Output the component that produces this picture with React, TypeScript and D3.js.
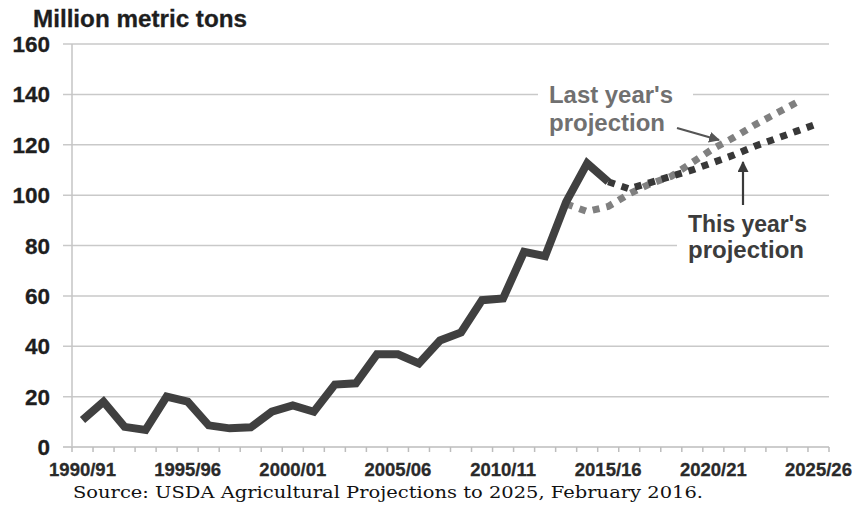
import React from "react";
import * as d3 from "d3";

const years = d3.range(1990, 2026);
const tickYears = [1990, 1995, 2000, 2005, 2010, 2015, 2020, 2025];
const yTicks = [0, 20, 40, 60, 80, 100, 120, 140, 160];

const historical = [10.7, 18, 8, 6.8, 20, 18, 8.6, 7.4, 7.8, 14, 16.5, 14, 24.8, 25.3, 36.8, 36.8, 33.2, 42.3, 45.5, 58.3, 59, 77.5, 75.8, 97.3, 112.6, 105.3];
const historicalStart = 1990;
const lastYear = [96.5, 93.5, 95.5, 100.5, 104.5, 107.5, 113, 118.5, 123, 128, 132.5, 137];
const lastYearStart = 2013;
const thisYear = [105.3, 102.5, 105, 107.5, 110, 113, 116, 119.5, 122.5, 125.5, 128.5];
const thisYearStart = 2015;

const W = 858, H = 505;
const x0 = 72, x1 = 829, yTop = 44, yBot = 447;

export default function App() {
  const band = d3.scaleBand<number>().domain(years).range([x0, x1]).padding(0);
  const xc = (yr: number) => (band(yr) as number) + band.bandwidth() / 2;
  const y = d3.scaleLinear().domain([0, 160]).range([yBot, yTop]);
  const line = d3.line<[number, number]>().x(d => xc(d[0])).y(d => y(d[1]));
  const toPts = (arr: number[], start: number) => arr.map((v, i) => [start + i, v] as [number, number]);

  const font = "'Liberation Sans', Arial, sans-serif";
  const gridColor = "#c9c9c9";

  return (
    <svg width={W} height={H} style={{ position: "absolute", left: 0, top: 0, background: "#fff" }}>
      <defs>
        <marker id="ah" viewBox="0 0 10 10" refX="9" refY="5" markerWidth="5" markerHeight="5" orient="auto">
          <path d="M0,0 L10,5 L0,10 z" fill="#555" />
        </marker>
        <marker id="ah2" viewBox="0 0 10 10" refX="9" refY="5" markerWidth="5" markerHeight="5" orient="auto">
          <path d="M0,0 L10,5 L0,10 z" fill="#3a3a3a" />
        </marker>
      </defs>
      {yTicks.map(t => (
        <line key={t} x1={63} x2={x1} y1={y(t)} y2={y(t)} stroke={t === 0 ? "#bdbdbd" : gridColor} strokeWidth={1.5} />
      ))}
      <line x1={x0} x2={x0} y1={yTop} y2={yBot} stroke="#c4c4c4" strokeWidth={1.5} />
      {years.concat([2026]).map(yr => {
        const xx = yr === 2026 ? x1 : (band(yr) as number);
        return <line key={yr} x1={xx} x2={xx} y1={yBot} y2={yBot + 5} stroke="#bdbdbd" strokeWidth={1.5} />;
      })}
      {yTicks.map(t => (
        <text key={t} x={50} y={y(t) + 8} textAnchor="end" fontFamily={font} fontWeight="bold" fontSize={22.5} fill="#1e1e1e" stroke="#1e1e1e" strokeWidth={0.3}>{t}</text>
      ))}
      {tickYears.map(yr => (
        <text key={yr} x={xc(yr)} y={476} textAnchor="middle" fontFamily={font} fontWeight="bold" fontSize={18.5} fill="#2a2a2a" stroke="#2a2a2a" strokeWidth={0.3}>
          {`${yr}/${String((yr + 1) % 100).padStart(2, "0")}`}
        </text>
      ))}
      <text x={33} y={27} fontFamily={font} fontWeight="bold" fontSize={23} fill="#1e1e1e" stroke="#1e1e1e" strokeWidth={0.3} textLength={214} lengthAdjust="spacingAndGlyphs">Million metric tons</text>

      <rect x={538} y={83} width={155} height={56} fill="#fff" />
      <rect x={677} y={208} width={160} height={60} fill="#fff" />

      <path d={line(toPts(lastYear, lastYearStart)) || ""} fill="none" stroke="#808080" strokeWidth={7} strokeDasharray="7 7" />
      <path d={line(toPts(historical, historicalStart)) || ""} fill="none" stroke="#404040" strokeWidth={8} strokeLinejoin="miter" />
      <path d={line(toPts(thisYear, thisYearStart)) || ""} fill="none" stroke="#383838" strokeWidth={7} strokeDasharray="7 7" />

      <text x={549} y={103} fontFamily={font} fontWeight="bold" fontSize={23} fill="#707070" textLength={124} lengthAdjust="spacingAndGlyphs">Last year's</text>
      <text x={549} y={131} fontFamily={font} fontWeight="bold" fontSize={23} fill="#707070" textLength={116} lengthAdjust="spacingAndGlyphs">projection</text>
      <line x1={677} y1={128} x2={719} y2={140} stroke="#555" strokeWidth={2.2} markerEnd="url(#ah)" />

      <text x={688} y={232} fontFamily={font} fontWeight="bold" fontSize={23} fill="#3c3c3c" textLength={119} lengthAdjust="spacingAndGlyphs">This year's</text>
      <text x={688} y={258} fontFamily={font} fontWeight="bold" fontSize={23} fill="#3c3c3c" textLength={116} lengthAdjust="spacingAndGlyphs">projection</text>
      <line x1={743} y1={205} x2={743} y2={162} stroke="#3a3a3a" strokeWidth={2.2} markerEnd="url(#ah2)" />

      <text x={73} y={498} fontFamily="'DejaVu Serif', 'Liberation Serif', serif" fontSize={17.5} fill="#111" textLength={630} lengthAdjust="spacingAndGlyphs">Source: USDA Agricultural Projections to 2025, February 2016.</text>
    </svg>
  );
}
